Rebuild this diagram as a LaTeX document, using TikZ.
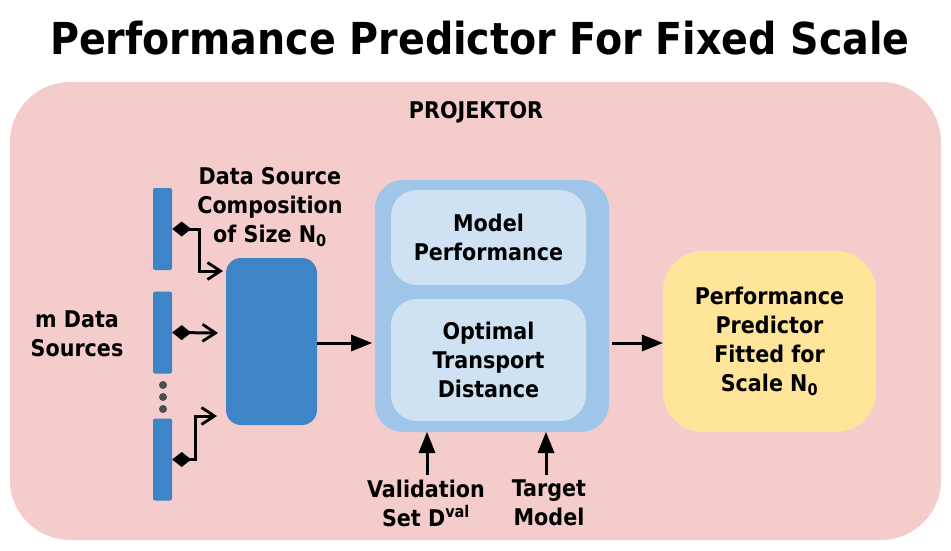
\documentclass[tikz,border=0pt]{standalone}
\usepackage{fontspec}
\setmainfont{DejaVu Sans Condensed}[BoldFont={DejaVu Sans Condensed Bold}]
\usetikzlibrary{arrows.meta}
\definecolor{bgpink}{HTML}{F4CCCC}
\definecolor{dblue}{HTML}{3D85C6}
\definecolor{mblue}{HTML}{9FC5E8}
\definecolor{lblue}{HTML}{CFE2F3}
\definecolor{lyellow}{HTML}{FFE599}
\definecolor{dotgray}{HTML}{4D4D4D}
\tikzset{
  lbl/.style={align=center, font=\bfseries\fontsize{23}{29}\selectfont, inner sep=0pt},
  bar/.style={fill=dblue, draw=none, rounded corners=2pt, minimum width=19pt, minimum height=82pt, inner sep=0pt},
  darr/.style={line width=3pt, {Diamond[length=19pt,width=15pt,line width=0pt]}-{Straight Barb[length=13pt,width=17pt,line width=2.8pt]}},
  marr/.style={line width=3pt, -{Triangle[length=21pt,width=17pt,line width=0pt]}},
  ibox/.style={fill=lblue, draw=none, rounded corners=26pt, minimum width=195pt, inner sep=0pt},
}
\begin{document}
\begin{tikzpicture}[x=1pt,y=-1pt]
\useasboundingbox[fill=white] (0,0) rectangle (951,551);
\node[fill=bgpink, rounded corners=60pt, minimum width=931pt, minimum height=458pt, inner sep=0pt] (bg) at (475.5,311) {};
\node[font=\bfseries\fontsize{44}{46}\selectfont, inner sep=0pt] (title) at (480,38) {Performance Predictor For Fixed Scale};
\node[lbl] (proj) at (476,112) {PROJEKTOR};
% sources
\node[bar] (b1) at (162.5,229) {};
\node[bar] (b2) at (162.5,332.5) {};
\node[bar] (b3) at (162.5,459.5) {};
\foreach \y [count=\i] in {385,397,409} \node[circle, fill=dotgray, minimum size=8pt, inner sep=0pt] (dot\i) at (163,\y) {};
\node[lbl] (msrc) at (77,334) {m Data\\Sources};
% composition
\node[fill=dblue, rounded corners=15pt, minimum width=91pt, minimum height=167pt, inner sep=0pt] (comp) at (271.5,341.5) {};
\node[lbl] (complbl) at (270,207) {Data Source\\Composition\\of Size N\textsubscript{0}};
\coordinate (in1) at (223,271);
\coordinate (in2) at (218,333);
\coordinate (in3) at (217,416);
\draw[darr] (b1.east) -- ++(27,0) |- (in1);
\draw[darr] (b2.east) -- (in2);
\draw[darr] (b3.east) -- ++(23,0) |- (in3);
% container
\node[fill=mblue, rounded corners=28pt, minimum width=234pt, minimum height=252pt, inner sep=0pt] (cont) at (492,306) {};
\node[ibox, minimum height=95pt] (mp) at (488.5,237.5) {};
\node[lbl] at (mp) {Model\\Performance};
\node[ibox, minimum height=122pt] (ot) at (488.5,360) {};
\node[lbl] at (ot) {Optimal\\Transport\\Distance};
\draw[marr] (comp.east |- 0,343) -- (372,343) coordinate (cin);
% output
\node[fill=lyellow, rounded corners=40pt, minimum width=213pt, minimum height=181pt, inner sep=0pt] (out) at (769.5,341.5) {};
\node[lbl] at (out) {Performance\\Predictor\\Fitted for\\Scale N\textsubscript{0}};
\draw[marr] (612,343) -- (out.west |- 0,343);
% inputs below
\node[lbl] (val) at (426,503) {Validation\\Set D\textsuperscript{val}};
\node[lbl] (tgt) at (549,503) {Target\\Model};
\draw[marr] (427,475) -- (427,432);
\draw[marr] (546,475) -- (546,432);
\end{tikzpicture}
\end{document}
